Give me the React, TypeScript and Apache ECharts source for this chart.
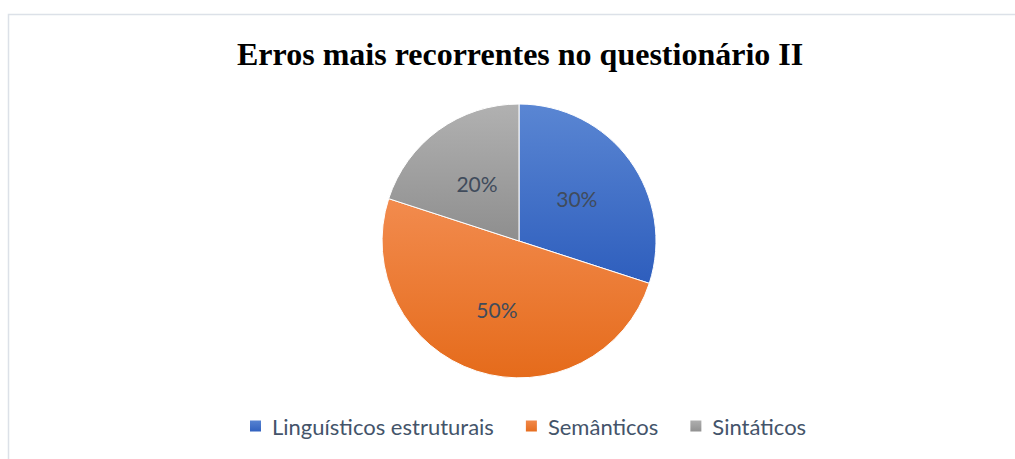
import React, { useEffect, useRef } from "react";
import * as echarts from "echarts";

const categories = ["Linguísticos estruturais", "Semânticos", "Sintáticos"];
const values = [30, 50, 20];
const titleText = "Erros mais recorrentes no questionário II";

const gradients = [
  ["#5A86D3", "#2E5EBD"],
  ["#F28B4E", "#E56B1B"],
  ["#B1B1B1", "#8E8E8E"],
];

export default function App() {
  const ref = useRef<HTMLDivElement>(null);
  useEffect(() => {
    if (!ref.current) return;
    const chart = echarts.init(ref.current, undefined, { renderer: "svg" });
    const grad = (c: string[]) =>
      new echarts.graphic.LinearGradient(0, 0, 0, 1, [
        { offset: 0, color: c[0] },
        { offset: 1, color: c[1] },
      ]);
    chart.setOption({
      animation: false,
      backgroundColor: "#ffffff",
      graphic: [
        {
          type: "rect",
          shape: { x: 8.5, y: 14.5, width: 1100, height: 500 },
          style: { fill: "none", stroke: "#DCE1E8", lineWidth: 1.5 },
          silent: true,
          z: -1,
        },
      ],
      title: {
        text: titleText,
        left: 232,
        top: 33,
        textStyle: {
          fontFamily: "Liberation Serif",
          fontWeight: "bold",
          fontSize: 32,
          color: "#000000",
        },
      },
      legend: {
        top: 410,
        left: 243,
        itemWidth: 13,
        itemHeight: 13,
        itemGap: 30,
        icon: "rect",
        textStyle: {
          fontFamily: "Lato",
          fontSize: 22,
          color: "#44546A",
          padding: [0, 0, 0, 5],
        },
        data: categories,
      },
      series: [
        {
          type: "pie",
          center: [519, 241],
          radius: 137,
          startAngle: 90,
          clockwise: true,
          label: {
            show: true,
            position: "inside",
            formatter: "{d}%",
            fontFamily: "Lato",
            fontSize: 21,
            color: "#404B5B",
          },
          labelLine: { show: false },
          itemStyle: { borderColor: "#ffffff", borderWidth: 1 },
          emphasis: { disabled: true },
          data: categories.map((name, i) => ({
            name,
            value: values[i],
            itemStyle: { color: grad(gradients[i]) },
          })),
        },
      ],
    });
    return () => chart.dispose();
  }, []);
  return (
    <div
      ref={ref}
      style={{ position: "fixed", left: 0, top: 0, width: 1015, height: 459 }}
    />
  );
}
